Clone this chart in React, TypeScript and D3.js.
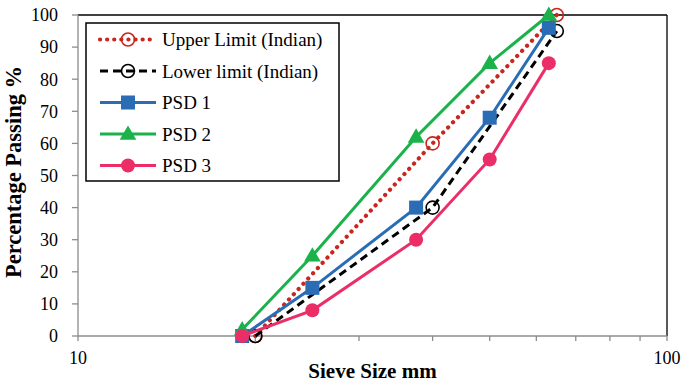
import * as d3 from 'd3';

// Sieve sizes (mm) and percentage passing
const limitSizes = [20, 40, 65];
const upperLimit = [0, 60, 100];
const lowerLimit = [0, 40, 95];

const psdSizes = [19, 25, 37.5, 50, 63];
const psd1 = [0, 15, 40, 68, 96];
const psd2 = [2, 25, 62, 85, 100];
const psd3 = [0, 8, 30, 55, 85];

const yTicks = [0, 10, 20, 30, 40, 50, 60, 70, 80, 90, 100];
const xMinor = [20, 30, 40, 50, 60, 70, 80, 90];
const xLabels = [10, 100];

type Series = {
  name: string;
  sizes: number[];
  values: number[];
  color: string;
  dash?: string;
  marker: 'ring' | 'square' | 'triangle' | 'circle';
};

const SERIES: Series[] = [
  { name: 'Upper Limit (Indian)', sizes: limitSizes, values: upperLimit, color: '#C8261E', dash: '0.1 7', marker: 'ring' },
  { name: 'Lower limit (Indian)', sizes: limitSizes, values: lowerLimit, color: '#000000', dash: '8 5', marker: 'ring' },
  { name: 'PSD 1', sizes: psdSizes, values: psd1, color: '#2A6DB5', marker: 'square' },
  { name: 'PSD 2', sizes: psdSizes, values: psd2, color: '#1BB24B', marker: 'triangle' },
  { name: 'PSD 3', sizes: psdSizes, values: psd3, color: '#EC2E68', marker: 'circle' },
];

const W = 683;
const H = 384;
const margin = { top: 15, right: 16, bottom: 48, left: 78 };
const FONT = "'Liberation Serif', Tinos, 'DejaVu Serif', serif";

function Marker({ s, x, y }: { s: Series; x: number; y: number }) {
  if (s.marker === 'ring')
    return <circle cx={x} cy={y} r={6.5} fill="none" stroke={s.color} strokeWidth={1.6} />;
  if (s.marker === 'square')
    return <rect x={x - 7} y={y - 7} width={14} height={14} fill={s.color} />;
  if (s.marker === 'triangle') {
    const tri = d3.symbol(d3.symbolTriangle, 120)() || '';
    return <path d={tri} transform={`translate(${x},${y + 1})`} fill={s.color} />;
  }
  return <circle cx={x} cy={y} r={7} fill={s.color} />;
}

export default function App() {
  const innerW = W - margin.left - margin.right;
  const innerH = H - margin.top - margin.bottom;

  const x = d3.scaleLog().domain([10, 100]).range([0, innerW]);
  const y = d3.scaleLinear().domain([0, 100]).range([innerH, 0]);

  const line = d3
    .line<[number, number]>()
    .x((d) => x(d[0]))
    .y((d) => y(d[1]));

  const axisColor = '#8c8c8c';

  return (
    <svg
      width={W}
      height={H}
      style={{ position: 'absolute', left: 0, top: 0, background: '#fff', fontFamily: FONT }}
    >
      <g transform={`translate(${margin.left},${margin.top})`}>
        {/* plot frame: top and right in black */}
        <line x1={0} x2={innerW} y1={0} y2={0} stroke="#000" strokeWidth={1.3} />
        <line x1={innerW} x2={innerW} y1={0} y2={innerH} stroke="#000" strokeWidth={1.3} />

        {/* y axis */}
        <line x1={0} x2={0} y1={0} y2={innerH} stroke={axisColor} strokeWidth={1.3} />
        {yTicks.map((t) => (
          <g key={t} transform={`translate(0,${y(t)})`}>
            <line x1={-6} x2={0} stroke={axisColor} strokeWidth={1.3} />
            <text x={-20} dy="0.35em" textAnchor="end" fontSize={18} fill="#000">
              {t}
            </text>
          </g>
        ))}

        {/* x axis */}
        <line x1={0} x2={innerW} y1={innerH} y2={innerH} stroke={axisColor} strokeWidth={1.3} />
        {xMinor.concat(xLabels).map((t) => (
          <line
            key={t}
            x1={x(t)}
            x2={x(t)}
            y1={innerH}
            y2={innerH + 5}
            stroke={axisColor}
            strokeWidth={1.3}
          />
        ))}
        {xLabels.map((t) => (
          <text key={t} x={x(t)} y={innerH + 28} textAnchor="middle" fontSize={18} fill="#000">
            {t}
          </text>
        ))}

        {/* series */}
        {SERIES.map((s) => {
          const pts = s.sizes.map((v, i) => [v, s.values[i]] as [number, number]);
          return (
            <g key={s.name}>
              <path
                d={line(pts) || ''}
                fill="none"
                stroke={s.color}
                strokeWidth={s.dash === '0.1 7' ? 4.2 : 3}
                strokeDasharray={s.dash}
                strokeLinecap={s.dash === '0.1 7' ? 'round' : 'butt'}
              />
              {pts.map((p, i) => (
                <Marker key={i} s={s} x={x(p[0])} y={y(p[1])} />
              ))}
            </g>
          );
        })}
      </g>

      {/* legend */}
      <g transform="translate(86,23)">
        <rect width={253} height={158} fill="#fff" stroke="#000" strokeWidth={1.5} />
        {SERIES.map((s, i) => {
          const ly = 16.5 + i * 31.5;
          return (
            <g key={s.name} transform={`translate(0,${ly})`}>
              <line
                x1={14}
                x2={70}
                stroke={s.color}
                strokeWidth={s.dash === '0.1 7' ? 4.2 : 3}
                strokeDasharray={s.dash}
                strokeLinecap={s.dash === '0.1 7' ? 'round' : 'butt'}
              />
              <Marker s={s} x={42} y={0} />
              <text x={76} dy="0.35em" fontSize={19} fill="#000">
                {s.name}
              </text>
            </g>
          );
        })}
      </g>

      {/* axis titles */}
      <text
        x={margin.left + innerW / 2}
        y={378}
        textAnchor="middle"
        fontSize={21}
        fontWeight="bold"
        fill="#000"
      >
        Sieve Size mm
      </text>
      <text
        transform={`translate(21,172) rotate(-90)`}
        textAnchor="middle"
        fontSize={22.5}
        fontWeight="bold"
        fill="#000"
      >
        Percentage Passing %
      </text>
    </svg>
  );
}
